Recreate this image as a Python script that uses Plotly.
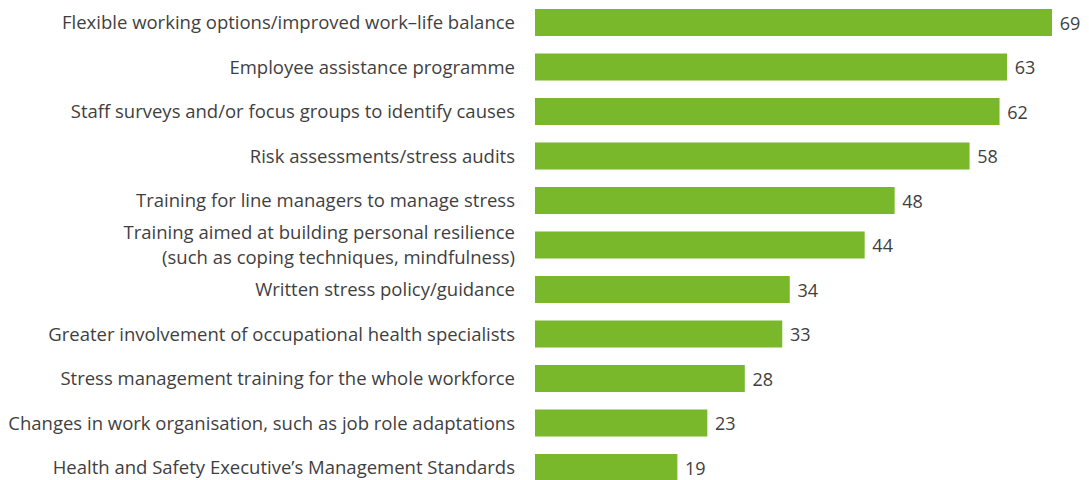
import plotly.graph_objects as go

categories = [
    "Flexible working options/improved work–life balance",
    "Employee assistance programme",
    "Staff surveys and/or focus groups to identify causes",
    "Risk assessments/stress audits",
    "Training for line managers to manage stress",
    "Training aimed at building personal resilience<br>(such as coping techniques, mindfulness)",
    "Written stress policy/guidance",
    "Greater involvement of occupational health specialists",
    "Stress management training for the whole workforce",
    "Changes in work organisation, such as job role adaptations",
    "Health and Safety Executive’s Management Standards",
]
values = [69, 63, 62, 58, 48, 44, 34, 33, 28, 23, 19]

GREEN = "#78b82a"
TEXT = "#3f3f3f"
FONT = "Open Sans"

fig = go.Figure(
    go.Bar(
        x=values,
        y=categories,
        orientation="h",
        marker=dict(color=GREEN, line=dict(width=0)),
        width=0.607,
        text=["\u00a0" + str(v) for v in values],
        textposition="outside",
        constraintext="none",
        cliponaxis=False,
        textfont=dict(family=FONT, size=18, color=TEXT),
        hoverinfo="skip",
    )
)

fig.update_layout(
    width=1089,
    height=480,
    margin=dict(l=535, r=0, t=0, b=0),
    paper_bgcolor="white",
    plot_bgcolor="white",
    showlegend=False,
    font=dict(family=FONT, size=18.5, color=TEXT),
)
fig.update_xaxes(range=[0, 73.94], visible=False, showgrid=False)
fig.update_yaxes(
    range=[10.28, -0.506],
    showgrid=False,
    zeroline=False,
    showline=False,
    ticks="",
    ticklabelstandoff=19,
    tickfont=dict(family=FONT, size=18.5, color=TEXT),
)

fig.write_html("out.html")
